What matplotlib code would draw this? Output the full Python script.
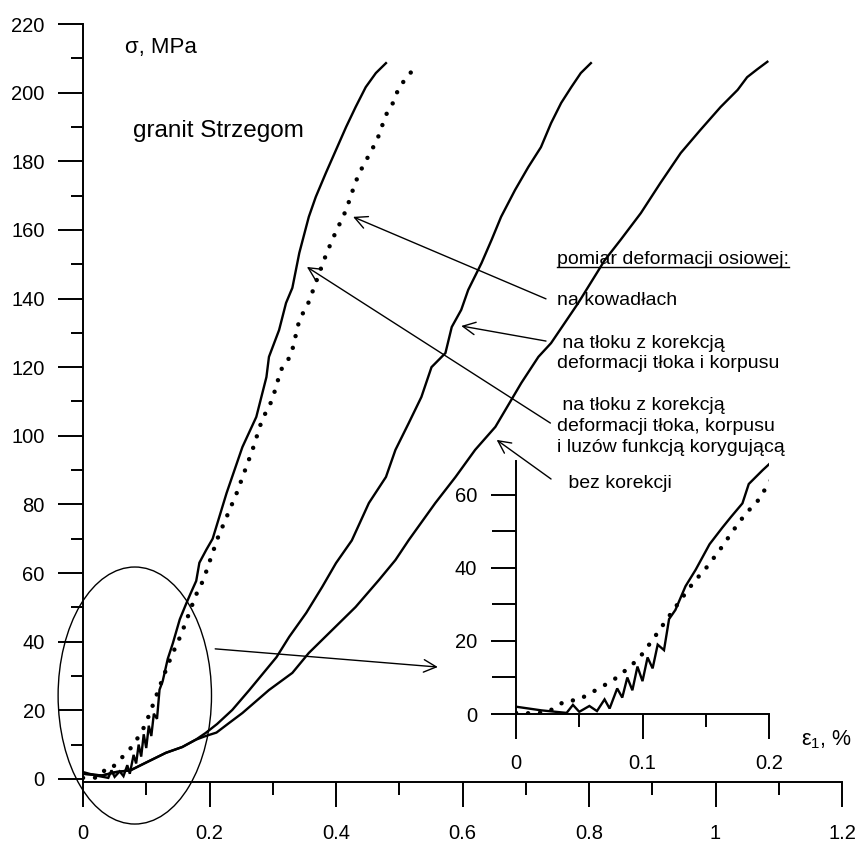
import matplotlib
matplotlib.use("Agg")
import matplotlib.pyplot as plt
from matplotlib.patches import Ellipse
from matplotlib.lines import Line2D
from matplotlib.ticker import MultipleLocator

plt.rcParams["font.family"] = ["Liberation Sans", "DejaVu Sans"]
plt.rcParams["mathtext.fontset"] = "custom"
plt.rcParams["mathtext.rm"] = "Liberation Sans"

W, H = 856, 843

# curve: strain eps1 [%], stress sigma [MPa]
# leftmost solid: na tloku z korekcja deformacji tloka, korpusu i luzow
eps_A = [0.000, 0.020, 0.040, 0.045, 0.050, 0.058, 0.064, 0.070, 0.074, 0.080,
         0.084, 0.088, 0.092, 0.096, 0.100, 0.104, 0.108, 0.112, 0.117, 0.121,
         0.126, 0.134, 0.142, 0.153, 0.163, 0.170, 0.179, 0.184, 0.195, 0.205,
         0.227, 0.252, 0.274, 0.290, 0.294, 0.310, 0.321, 0.331, 0.342, 0.357,
         0.368, 0.384, 0.400, 0.416, 0.431, 0.447, 0.463, 0.479]
sig_A = [2.0, 1.0, 0.3, 2.5, 0.6, 2.2, 0.8, 4.0, 1.5, 7.0,
         4.5, 10.0, 6.5, 13.0, 9.0, 15.5, 12.5, 19.0, 17.5, 26.0,
         28.5, 35.0, 39.5, 46.5, 51.0, 54.0, 57.7, 63.0, 66.8, 70.0,
         83.3, 96.7, 105.5, 117.1, 123.0, 130.8, 138.7, 143.1, 153.3, 163.8,
         169.6, 176.6, 183.3, 190.0, 195.8, 201.6, 205.7, 208.6]

# dotted: na kowadlach
eps_B = [0.000, 0.011, 0.025, 0.039, 0.049, 0.066, 0.077, 0.090, 0.098, 0.108,
         0.119, 0.130, 0.140, 0.151, 0.161, 0.172, 0.182, 0.190, 0.199, 0.213,
         0.243, 0.268, 0.283, 0.299, 0.313, 0.329, 0.342, 0.357, 0.381, 0.394,
         0.416, 0.431, 0.441, 0.465, 0.479, 0.491, 0.499, 0.512, 0.528]
sig_B = [0.3, 0.2, 0.5, 3.6, 3.8, 7.1, 9.3, 12.9, 15.6, 20.3,
         25.8, 31.2, 35.9, 40.3, 44.9, 50.4, 55.1, 57.8, 62.7, 70.2,
         83.3, 95.9, 104.6, 110.4, 119.2, 123.5, 133.7, 139.0, 151.2, 157.1,
         165.8, 174.0, 178.0, 186.2, 193.5, 197.3, 201.3, 204.5, 208.0]

# middle solid: na tloku z korekcja deformacji tloka i korpusu
eps_C = [0.000, 0.030, 0.052, 0.075, 0.099, 0.131, 0.157, 0.178, 0.194, 0.212,
         0.236, 0.263, 0.306, 0.326, 0.353, 0.378, 0.400, 0.425, 0.452, 0.479,
         0.494, 0.515, 0.535, 0.551, 0.573, 0.583, 0.598, 0.609, 0.630, 0.646,
         0.661, 0.683, 0.704, 0.724, 0.740, 0.756, 0.772, 0.787, 0.803]
sig_C = [1.5, 1.0, 2.0, 2.5, 4.7, 7.6, 9.3, 11.4, 13.4, 16.0,
         20.1, 25.9, 35.5, 41.4, 48.4, 55.9, 62.9, 69.5, 80.4, 88.0,
         95.9, 103.7, 111.3, 120.0, 124.1, 131.7, 136.7, 142.5, 150.3, 157.1,
         163.8, 171.6, 178.3, 184.1, 191.1, 197.0, 201.6, 205.7, 208.6]

# rightmost solid: bez korekcji
eps_D = [0.000, 0.030, 0.052, 0.075, 0.099, 0.131, 0.157, 0.178, 0.194, 0.211,
         0.231, 0.252, 0.294, 0.331, 0.357, 0.394, 0.431, 0.468, 0.494, 0.515,
         0.557, 0.589, 0.620, 0.652, 0.677, 0.693, 0.720, 0.740, 0.783, 0.825,
         0.850, 0.882, 0.913, 0.945, 0.976, 1.008, 1.035, 1.050, 1.066, 1.082]
sig_D = [1.5, 1.0, 2.0, 2.5, 4.7, 7.6, 9.3, 11.4, 12.5, 13.5,
         16.3, 19.2, 25.9, 30.9, 36.7, 43.4, 50.1, 58.0, 63.8, 69.6,
         80.4, 88.0, 95.9, 102.6, 110.4, 115.4, 123.0, 127.0, 138.7, 151.2,
         157.1, 164.9, 173.7, 182.4, 189.1, 195.8, 200.8, 204.5, 206.8, 209.0]

x_ticks = [0, 0.2, 0.4, 0.6, 0.8, 1.0, 1.2]
x_tick_labels = ["0", "0.2", "0.4", "0.6", "0.8", "1", "1.2"]
y_ticks = list(range(0, 221, 20))
inset_x_ticks = [0, 0.1, 0.2]
inset_x_tick_labels = ["0", "0.1", "0.2"]
inset_y_ticks = [0, 20, 40, 60]

# annotation texts (left x, centre y in data units of the main axes)
labels = [
    (0.750, 139.3, "na kowadłach"),
    (0.750, 127.0, " na tłoku z korekcją"),
    (0.750, 121.2, "deformacji tłoka i korpusu"),
    (0.750, 108.7, " na tłoku z korekcją"),
    (0.750, 102.6, "deformacji tłoka, korpusu"),
    (0.750, 96.7, "i luzów funkcją korygującą"),
    (0.759, 86.2, " bez korekcji"),
]
# arrows: (tail, head) in data units
arrows = [
    ((0.732, 139.9), (0.427, 163.8)),
    ((0.732, 127.6), (0.598, 132.0)),
    ((0.739, 103.7), (0.354, 149.2)),
    ((0.740, 87.4), (0.654, 98.8)),
    ((0.209, 37.9), (0.561, 32.6)),
]

LW_AX = 1.4


def style_axes(a, major_len, minor_len_x, minor_len_y, xpad, ypad):
    for s in ("top", "right"):
        a.spines[s].set_visible(False)
    for s in ("left", "bottom"):
        a.spines[s].set_linewidth(LW_AX)
    a.tick_params(which="major", direction="out", length=major_len,
                  width=LW_AX, labelsize=14.5)
    a.tick_params(axis="x", which="major", pad=xpad)
    a.tick_params(axis="y", which="major", pad=ypad)
    a.tick_params(axis="x", which="minor", direction="out",
                  length=minor_len_x, width=LW_AX)
    a.tick_params(axis="y", which="minor", direction="out",
                  length=minor_len_y, width=LW_AX)


fig = plt.figure(figsize=(W / 100, H / 100), dpi=100)

ax = fig.add_axes([83 / W, 1 - 782 / H, 759 / W, 758 / H])
ax.set_xlim(0, 1.2)
ax.set_ylim(-0.9, 220)
ax.set_xticks(x_ticks)
ax.set_xticklabels(x_tick_labels)
ax.set_yticks(y_ticks)
ax.xaxis.set_minor_locator(MultipleLocator(0.1))
ax.yaxis.set_minor_locator(MultipleLocator(10))
style_axes(ax, 18, 9.5, 9, 12, 9.5)

line_kw = dict(color="k", lw=1.7, solid_joinstyle="miter")
dot_kw = dict(color="k", lw=3.2, linestyle=(0, (0.01, 2.7)),
              dash_capstyle="round")

ax.plot(eps_A, sig_A, **line_kw)
ax.plot(eps_B, sig_B, **dot_kw)
ax.plot(eps_C, sig_C, **line_kw)
ax.plot(eps_D, sig_D, **line_kw)

ax.add_patch(Ellipse((0.0819, 24.3), 0.2425, 74.9, fill=False,
                     lw=1.0, color="k", clip_on=False))

for tail, head in arrows:
    ax.annotate("", xy=head, xytext=tail, annotation_clip=False,
                arrowprops=dict(arrowstyle="->,head_length=0.9,head_width=0.45",
                                lw=1.0, color="k", shrinkA=0, shrinkB=0))

for x, y, s in labels:
    ax.text(x, y, s, fontsize=14, va="center", ha="left")

head = ax.text(0.750, 150.1, "pomiar deformacji osiowej:", fontsize=14,
               va="baseline", ha="left")

fig.text(125 / W, 1 - 47 / H, "σ, MPa", fontsize=16, va="center")
fig.text(133 / W, 1 - 131 / H, "granit Strzegom", fontsize=17.5, va="center")
fig.text(801 / W, 1 - 740 / H, r"ε$_1$, %", fontsize=15.5, va="center")

# inset: close-up of the ellipse region
axi = fig.add_axes([516 / W, 1 - 714 / H, 253 / W, 253 / H])
axi.set_xlim(0, 0.2)
axi.set_ylim(0, 69.3)
axi.set_xticks(inset_x_ticks)
axi.set_xticklabels(inset_x_tick_labels)
axi.set_yticks(inset_y_ticks)
axi.xaxis.set_minor_locator(MultipleLocator(0.05))
axi.yaxis.set_minor_locator(MultipleLocator(10))
style_axes(axi, 18, 9.5, 17, 11, 10)
axi.patch.set_alpha(0)
axi.plot(eps_A, sig_A, **line_kw)
axi.plot(eps_B, sig_B, **dot_kw)

# underline the heading
fig.canvas.draw()
bb = head.get_window_extent()
base_y = ax.transData.transform((0, 150.1))[1] - 3
inv = fig.transFigure.inverted()
(x0, y0), (x1, _) = inv.transform([(bb.x0, base_y), (bb.x1, base_y)])
fig.add_artist(Line2D([x0, x1], [y0, y0], color="k", lw=1.0))

fig.savefig("out.png", dpi=100)
